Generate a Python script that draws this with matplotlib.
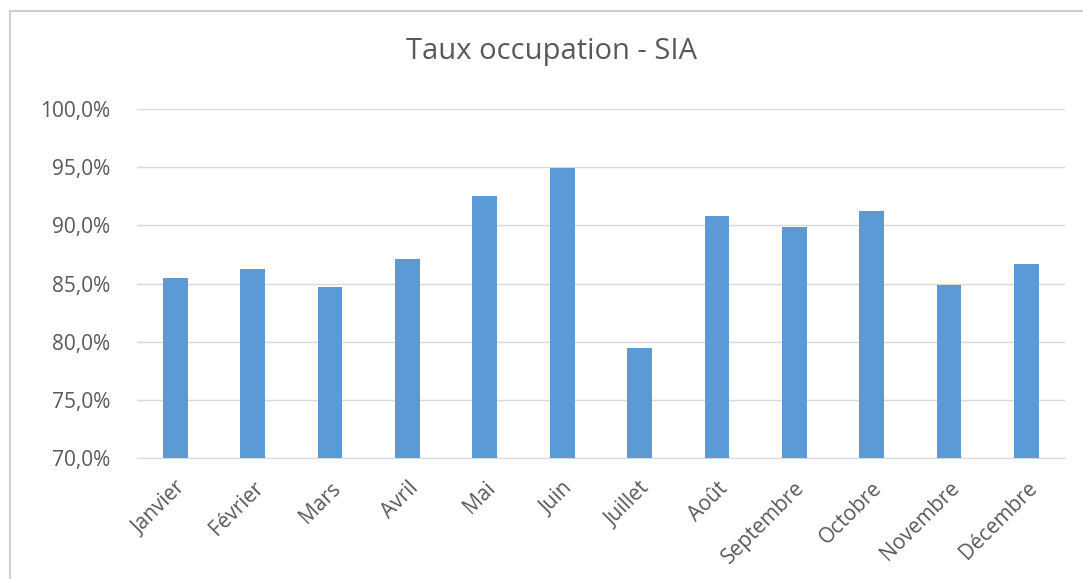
import matplotlib
matplotlib.use("Agg")
import matplotlib.pyplot as plt
from matplotlib.ticker import FuncFormatter, MultipleLocator
from matplotlib.lines import Line2D

months = ["Janvier", "Février", "Mars", "Avril", "Mai", "Juin", "Juillet",
          "Août", "Septembre", "Octobre", "Novembre", "Décembre"]
rates = [85.5, 86.3, 84.7, 87.1, 92.5, 94.9, 79.5, 90.8, 89.9, 91.2, 84.9, 86.7]
title = "Taux occupation - SIA"

W, H = 1083, 579
fig = plt.figure(figsize=(W / 100, H / 100), dpi=100)
plt.rcParams['font.family'] = ['Open Sans', 'DejaVu Sans']

ax = fig.add_axes([136.7 / W, 1 - 458.3 / H, (1065 - 136.7) / W, (458.3 - 109) / H])
x = list(range(len(months)))
ax.bar(x, rates, width=0.32, color="#5b9bd5", bottom=0, zorder=3)
ax.set_ylim(70, 100)
ax.set_xlim(-0.5, len(months) - 0.5)
ax.yaxis.set_major_locator(MultipleLocator(5))
ax.yaxis.set_major_formatter(FuncFormatter(lambda v, p: f"{v:.1f}%".replace(".", ",")))
ax.grid(axis="y", color="#d9d9d9", linewidth=1.0, zorder=0)
for s in ["top", "right", "left"]:
    ax.spines[s].set_visible(False)
ax.spines["bottom"].set_color("#d9d9d9")
ax.tick_params(axis="both", length=0, colors="#595959", labelsize=15)
ax.tick_params(axis="y", pad=19)
ax.set_xticks(x)
ax.set_xticklabels(months, rotation=45, ha="right", rotation_mode="anchor")
ax.tick_params(axis="x", pad=14)

fig.text(552 / W, 1 - 52 / H, title, ha="center", va="center", fontsize=21, color="#595959")

# chart border (top and left visible)
fig.add_artist(Line2D([10 / W, 1], [1 - 11 / H, 1 - 11 / H], color="#d0d0d0", lw=1.5, transform=fig.transFigure))
fig.add_artist(Line2D([10 / W, 10 / W], [0, 1 - 11 / H], color="#d0d0d0", lw=1.5, transform=fig.transFigure))

fig.savefig("out.png", dpi=100)
